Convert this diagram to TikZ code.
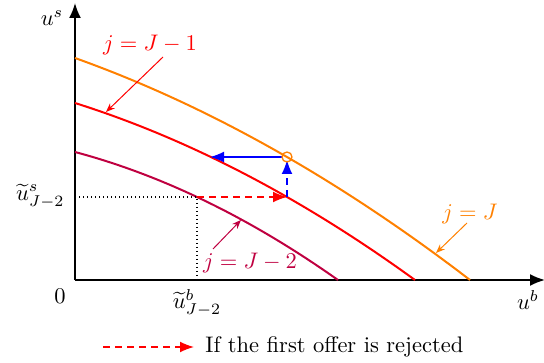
\documentclass[tikz,border=0pt]{standalone}
\usetikzlibrary{arrows.meta}
\begin{document}
\begin{tikzpicture}[x=1pt,y=1pt,
  every node/.style={scale=2.25, inner sep=0pt},
  axis/.style={line width=1.8pt, -{Latex[length=15pt,width=12pt]}},
  curve/.style={line width=2pt},
  lbl/.style={line width=1pt, -{Stealth[length=9pt,width=7pt]}},
  bigtip/.style={-{Latex[length=14pt,width=11pt]}},
  dsh/.style={line width=1.6pt, dash pattern=on 7pt off 5pt}
]
\useasboundingbox (0,0) rectangle (544,362);
% px -> (x, 362-y)
\coordinate (O) at (75,82);
\coordinate (Ytop) at (75,359);
\coordinate (Xend) at (545,82);
\draw[axis] (O) -- (Ytop);
\draw[axis] (O) -- (Xend);
% curves
\draw[curve, orange] plot[domain=0:395, samples=60] ({75+\x},{82+222-0.357*\x-5.19*(\x/100)*(\x/100)});
\draw[curve, red] plot[domain=0:340, samples=60] ({75+\x},{82+177-0.3156*\x-6.03*(\x/100)*(\x/100)});
\draw[curve, purple] plot[domain=0:263, samples=60] ({75+\x},{82+128-0.2669*\x-8.36*(\x/100)*(\x/100)});
% key points
\coordinate (P) at (287,205);
\coordinate (Q) at (287,165);
\coordinate (R) at (210,205);
\coordinate (S) at (197,165);
\coordinate (Sx) at (75,165);
\coordinate (Sy) at (197,82);
\draw[line width=1.3pt, dash pattern=on 1.4pt off 2.6pt] (Sx) -- (S) -- (Sy);
\draw[dsh, red, bigtip] (S) -- (Q);
\draw[dsh, blue, bigtip] (Q) -- ([yshift=-3pt]P);
\draw[line width=1.6pt, blue, bigtip] ([xshift=-5pt]P) -- (R);
\draw[line width=1.3pt, orange] (P) circle (5pt);
% labels
\node (us) at (52,344) {$u^s$};
\node (ub) at (528,62) {$u^b$};
\node (zero) at (60,66) {$0$};
\node[anchor=east] (ust) at (65,166) {$\widetilde{u}^s_{J-2}$};
\node[anchor=north] (ubt) at (197,73) {$\widetilde{u}^b_{J-2}$};
\node[red] (l1) at (150,317) {$j=J-1$};
\node[orange] (l0) at (470,148) {$j=J$};
\node[purple] (l2) at (250,99) {$j=J-2$};
\coordinate (t1) at (106,250);
\coordinate (t0) at (436,109);
\coordinate (t2) at (241,142);
\draw[lbl, red] (163,305) -- (t1);
\draw[lbl, orange] (467,139) -- (t0);
\draw[lbl, purple] (213,113) -- (t2);
% legend
\coordinate (la) at (103,15);
\coordinate (lb) at (194,15);
\draw[dsh, red, bigtip] (la) -- (lb);
\node[anchor=west] (lt) at (205,15) {If the first offer is rejected};
\end{tikzpicture}
\end{document}
